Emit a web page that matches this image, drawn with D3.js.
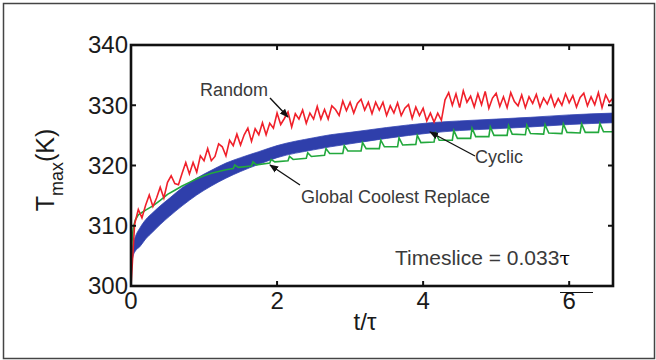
<!DOCTYPE html>
<html>
<head>
<meta charset="utf-8">
<title>Tmax vs t/tau</title>
<script src="https://d3js.org/d3.v7.min.js"></script>
<style>
  body { margin: 0; background: #fff; }
  text { font-family: "Liberation Sans", Arial, sans-serif; }
</style>
</head>
<body>
<div id="chart"></div>
<script>

// axis ticks
var xTicks = [0, 2, 4, 6];
var yTicks = [300, 310, 320, 330, 340];

// Random replacement: sampled every 0.05 tau
var randomStep = 0.05;
var randomT = [
  300.0, 310.3, 312.7, 311.3, 313.4, 315.1, 313.2, 314.6, 316.4, 314.6,
  317.2, 318.3, 317.0, 316.8, 318.7, 320.5, 318.6, 320.5, 318.9, 321.6,
  320.8, 322.8, 320.8, 321.5, 323.6, 323.1, 321.6, 324.2, 323.3, 325.2,
  323.4, 325.1, 326.2, 324.0, 326.1, 325.1, 327.1, 325.1, 327.0, 326.2,
  328.7, 326.8, 327.8, 328.9, 326.4, 328.6, 327.7, 329.2, 327.0, 328.7,
  327.7, 329.8, 327.7, 329.3, 327.7, 329.9, 329.3, 328.3, 330.7, 329.1,
  330.5, 328.7, 330.3, 331.0, 329.2, 330.5, 328.6, 330.5, 329.2, 330.5,
  328.3, 329.9, 328.7, 330.4, 328.3, 329.5, 330.1, 327.8, 329.7, 328.3,
  329.5, 327.4, 328.7, 327.2, 328.7, 327.5, 330.9, 332.1, 330.0, 331.9,
  329.6, 332.4, 330.5, 331.5, 329.7, 331.9, 330.1, 332.3, 329.5, 331.2,
  332.0, 329.8, 331.4, 329.6, 332.1, 330.6, 329.9, 331.7, 329.6, 331.4,
  330.3, 331.8, 329.7, 331.2, 330.2, 331.7, 329.8, 331.1, 330.0, 331.9,
  330.4, 331.6, 329.7, 331.3, 332.0, 329.9, 331.4, 330.1, 332.1, 329.6,
  331.7, 330.5, 331.2
];

// Cyclic: thick band, lower / upper edge
var cyclicTime = [0, 0.01, 0.03, 0.06, 0.12, 0.2, 0.3, 0.4, 0.53, 0.7, 0.9, 1.1, 1.3, 1.5, 1.75,
  2.0, 2.5, 2.73, 3.0, 3.5, 4.1, 4.5, 5.0, 5.47, 6.0, 6.6];
var cyclicLo = [300, 303.5, 305.0, 305.8, 306.5, 307.8, 309.0, 310.2, 311.6, 313.3, 315.1, 316.6, 317.9, 319.0, 320.2,
  321.3, 322.6, 323.1, 323.6, 324.5, 325.4, 325.8, 326.1, 326.4, 326.8, 327.1];
var cyclicHi = [300.5, 305.5, 307.0, 308.2, 309.6, 311.0, 312.2, 313.3, 314.6, 316.3, 317.9, 319.2, 320.4, 321.3, 322.3,
  323.3, 324.6, 325.1, 325.5, 326.3, 327.1, 327.4, 327.7, 328.0, 328.4, 328.7];

// Global Coolest Replace
var coolestTime = [0, 0.005, 0.015, 0.03, 0.06, 0.1, 0.15, 0.2, 0.3, 0.4, 0.5, 0.6, 0.7, 0.8, 0.9, 1.0, 1.1, 1.2, 1.3,
  1.40, 1.42, 1.47, 1.65, 1.67, 1.72, 1.90, 1.92, 1.97, 2.15, 2.17, 2.22, 2.40, 2.42, 2.47,
  2.65, 2.67, 2.72, 2.90, 2.92, 2.97, 3.15, 3.17, 3.22, 3.40, 3.42, 3.47, 3.65, 3.67, 3.72,
  3.90, 3.92, 3.97, 4.15, 4.17, 4.22, 4.40, 4.42, 4.47, 4.65, 4.67, 4.72, 4.90, 4.92, 4.97,
  5.15, 5.17, 5.22, 5.40, 5.42, 5.47, 5.65, 5.67, 5.72, 5.90, 5.92, 5.97, 6.15, 6.17, 6.22,
  6.40, 6.42, 6.47, 6.60];
var coolestT = [300, 304, 307.5, 309.6, 311.0, 311.8, 312.2, 312.6, 313.3, 314.2, 315.2, 315.9, 316.6, 317.2, 317.8, 318.3, 318.7, 319.0, 319.3,
  319.5, 320.1, 319.7, 319.9, 320.6, 320.1, 320.4, 321.0, 320.6, 320.8, 321.5, 321.0, 321.2, 322.1, 321.5,
  321.7, 322.8, 322.0, 322.0, 323.3, 322.4, 322.4, 323.8, 322.8, 322.8, 324.2, 323.1, 323.1, 324.6, 323.4,
  323.5, 325.0, 323.8, 323.9, 325.4, 324.2, 324.2, 325.8, 324.5, 324.5, 326.2, 324.8, 324.8, 326.4, 325.0,
  325.0, 326.6, 325.2, 325.1, 326.7, 325.3, 325.2, 326.8, 325.4, 325.3, 326.9, 325.5, 325.4, 326.9, 325.5,
  325.5, 327.0, 325.6, 325.6];

var W = 656, H = 360;
var plot = { left: 131, right: 613, top: 45, bottom: 286 };

var svg = d3.select("#chart").append("svg")
  .attr("width", W).attr("height", H);

svg.append("rect").attr("width", W).attr("height", H).attr("fill", "#fff");

// outer frame
svg.append("rect")
  .attr("x", 3.5).attr("y", 3.5).attr("width", W - 5).attr("height", H - 5)
  .attr("fill", "none").attr("stroke", "#444").attr("stroke-width", 1.5);

var x = d3.scaleLinear().domain([0, 6.6]).range([plot.left, plot.right]);
var y = d3.scaleLinear().domain([300, 340]).range([plot.bottom, plot.top]);

svg.append("clipPath").attr("id", "clip").append("rect")
  .attr("x", plot.left).attr("y", plot.top)
  .attr("width", plot.right - plot.left).attr("height", plot.bottom - plot.top);

var g = svg.append("g").attr("clip-path", "url(#clip)");

// cyclic band
var band = d3.area()
  .x(function (d, i) { return x(cyclicTime[i]); })
  .y0(function (d, i) { return y(cyclicLo[i]); })
  .y1(function (d, i) { return y(cyclicHi[i]); })
  .curve(d3.curveMonotoneX);
g.append("path")
  .attr("d", band(cyclicTime))
  .attr("fill", "#2f3fab")
  .attr("stroke", "#3445b3")
  .attr("stroke-width", 0.8);

// global coolest replace
var coolLine = d3.line()
  .x(function (d, i) { return x(coolestTime[i]); })
  .y(function (d) { return y(d); });
g.append("path")
  .attr("d", coolLine(coolestT))
  .attr("fill", "none").attr("stroke", "#22a83c").attr("stroke-width", 1.6);

// random
var randLine = d3.line()
  .x(function (d, i) { return x(i * randomStep); })
  .y(function (d) { return y(d); });
g.append("path")
  .attr("d", randLine(randomT))
  .attr("fill", "none").attr("stroke", "#f0202a").attr("stroke-width", 1.6);

// axes box with inward ticks
var axisG = svg.append("g").attr("stroke", "#111").attr("stroke-width", 2);
axisG.append("rect")
  .attr("x", plot.left).attr("y", plot.top)
  .attr("width", plot.right - plot.left).attr("height", plot.bottom - plot.top)
  .attr("fill", "none").attr("stroke-width", 2.6);

xTicks.forEach(function (t) {
  axisG.append("line").attr("x1", x(t)).attr("x2", x(t)).attr("y1", plot.bottom).attr("y2", plot.bottom - 5);
  axisG.append("line").attr("x1", x(t)).attr("x2", x(t)).attr("y1", plot.top).attr("y2", plot.top + 5);
});
yTicks.forEach(function (v) {
  axisG.append("line").attr("x1", plot.left).attr("x2", plot.left + 5).attr("y1", y(v)).attr("y2", y(v));
  axisG.append("line").attr("x1", plot.right).attr("x2", plot.right - 5).attr("y1", y(v)).attr("y2", y(v));
});

// tick labels
svg.selectAll(".xlab").data(xTicks).enter().append("text")
  .attr("x", function (d) { return x(d); })
  .attr("y", plot.bottom + 23)
  .attr("text-anchor", "middle")
  .attr("font-size", 24).attr("fill", "#1a1a1a")
  .text(function (d) { return d; });

svg.selectAll(".ylab").data(yTicks).enter().append("text")
  .attr("x", plot.left - 3)
  .attr("y", function (d) { return y(d); })
  .attr("dy", "0.35em")
  .attr("text-anchor", "end")
  .attr("font-size", 24).attr("fill", "#1a1a1a")
  .text(function (d) { return d; });

// axis titles
svg.append("text")
  .attr("x", 365).attr("y", 330)
  .attr("text-anchor", "middle")
  .attr("font-size", 24).attr("fill", "#1a1a1a")
  .text("t/τ");

var yt = svg.append("text")
  .attr("transform", "translate(54,170) rotate(-90)")
  .attr("text-anchor", "middle")
  .attr("font-size", 25).attr("fill", "#1a1a1a");
yt.append("tspan").text("T");
yt.append("tspan").attr("font-size", 18).attr("dy", 9).text("max");
yt.append("tspan").attr("dy", -9).text("(K)");

// annotations
var ann = svg.append("g").attr("font-size", 18).attr("fill", "#3a3a3a");
ann.append("text").attr("x", 200).attr("y", 96).text("Random");
ann.append("text").attr("x", 475).attr("y", 163).text("Cyclic");
ann.append("text").attr("x", 301).attr("y", 203).text("Global Coolest Replace");

var ts = svg.append("text").attr("x", 395).attr("y", 265)
  .attr("font-size", 21).attr("fill", "#3a3a3a");
ts.append("tspan").text("Timeslice = 0.033");
ts.append("tspan").attr("font-family", "'DejaVu Serif', serif").attr("font-size", 19).attr("fill", "#000").text("τ");

// arrows
svg.append("defs").append("marker")
  .attr("id", "head").attr("viewBox", "0 0 10 10")
  .attr("refX", 9).attr("refY", 5)
  .attr("markerWidth", 9).attr("markerHeight", 9)
  .attr("markerUnits", "userSpaceOnUse")
  .attr("orient", "auto")
  .append("path").attr("d", "M0,1 L10,5 L0,9 Z").attr("fill", "#111");

var arrows = [
  [270, 98, 288, 117],
  [475, 156, 430, 132],
  [300, 185, 270, 165]
];
arrows.forEach(function (a) {
  svg.append("line")
    .attr("x1", a[0]).attr("y1", a[1]).attr("x2", a[2]).attr("y2", a[3])
    .attr("stroke", "#111").attr("stroke-width", 1.4)
    .attr("marker-end", "url(#head)");
});

// small stray rule under the 6 tick
svg.append("line")
  .attr("x1", 560).attr("x2", 593).attr("y1", 292.5).attr("y2", 292.5)
  .attr("stroke", "#111").attr("stroke-width", 1);

</script>
</body>
</html>
